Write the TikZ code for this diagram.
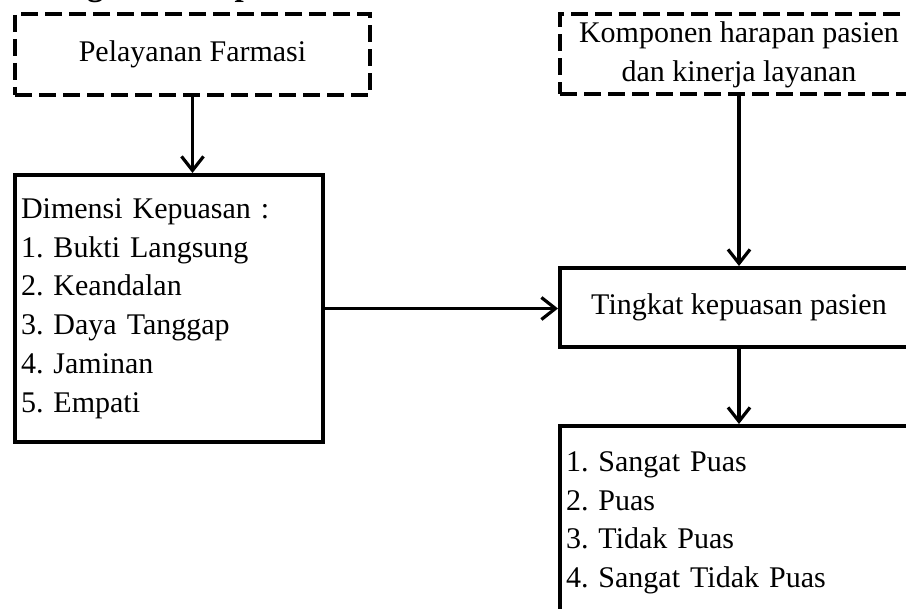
\documentclass[tikz,border=0pt]{standalone}
\usepackage{fontspec}
\setmainfont{Liberation Serif}
\usetikzlibrary{arrows.meta}
\frenchspacing
\tikzset{
  txt/.style={font=\fontsize{30}{38.8}\selectfont\frenchspacing},
  dbox/.style={draw, line width=4pt, dash pattern=on 17pt off 7pt, txt, inner sep=0pt, align=center},
  sbox/.style={draw, line width=4pt, txt, inner sep=0pt},
  arr/.style={draw, line width=3.2pt, -{Straight Barb[length=14pt,width=22pt]}},
}
\begin{document}
\begin{tikzpicture}[x=1pt,y=-1pt]
\useasboundingbox (0,0) rectangle (906,609);
\clip (0,0) rectangle (906,609);
\node[font=\fontsize{33}{40}\selectfont\bfseries, anchor=base west, inner sep=0pt] (title) at (-3,-4.6) {Kerangka Konsep};
\node[dbox, minimum width=355pt, minimum height=81pt] (pf) at (192.5,54.5) {Pelayanan Farmasi};
\node[dbox, minimum width=358pt, minimum height=80pt] (kp) at (739,54.5) {Komponen harapan pasien\\dan kinerja layanan};
\node[sbox, minimum width=308pt, minimum height=267pt, text width=296pt, align=left] (dk) at (169,308.5)
  {Dimensi Kepuasan :\\1. Bukti Langsung\\2. Keandalan\\3. Daya Tanggap\\4. Jaminan\\5. Empati};
\node[sbox, minimum width=358pt, minimum height=79pt] (tk) at (739,307.5) {Tingkat kepuasan pasien};
\node[sbox, minimum width=358pt, minimum height=193.5pt, text width=346pt, align=left] (hs) at (739,522.75)
  {1. Sangat Puas\\2. Puas\\3. Tidak Puas\\4. Sangat Tidak Puas};
\draw[arr] (pf.south) -- (pf.south |- dk.north);
\draw[arr] (dk.east) -- (tk.west |- dk.east);
\draw[arr] (kp.south) -- (tk.north);
\draw[arr] (tk.south) -- (hs.north);
\end{tikzpicture}
\end{document}
